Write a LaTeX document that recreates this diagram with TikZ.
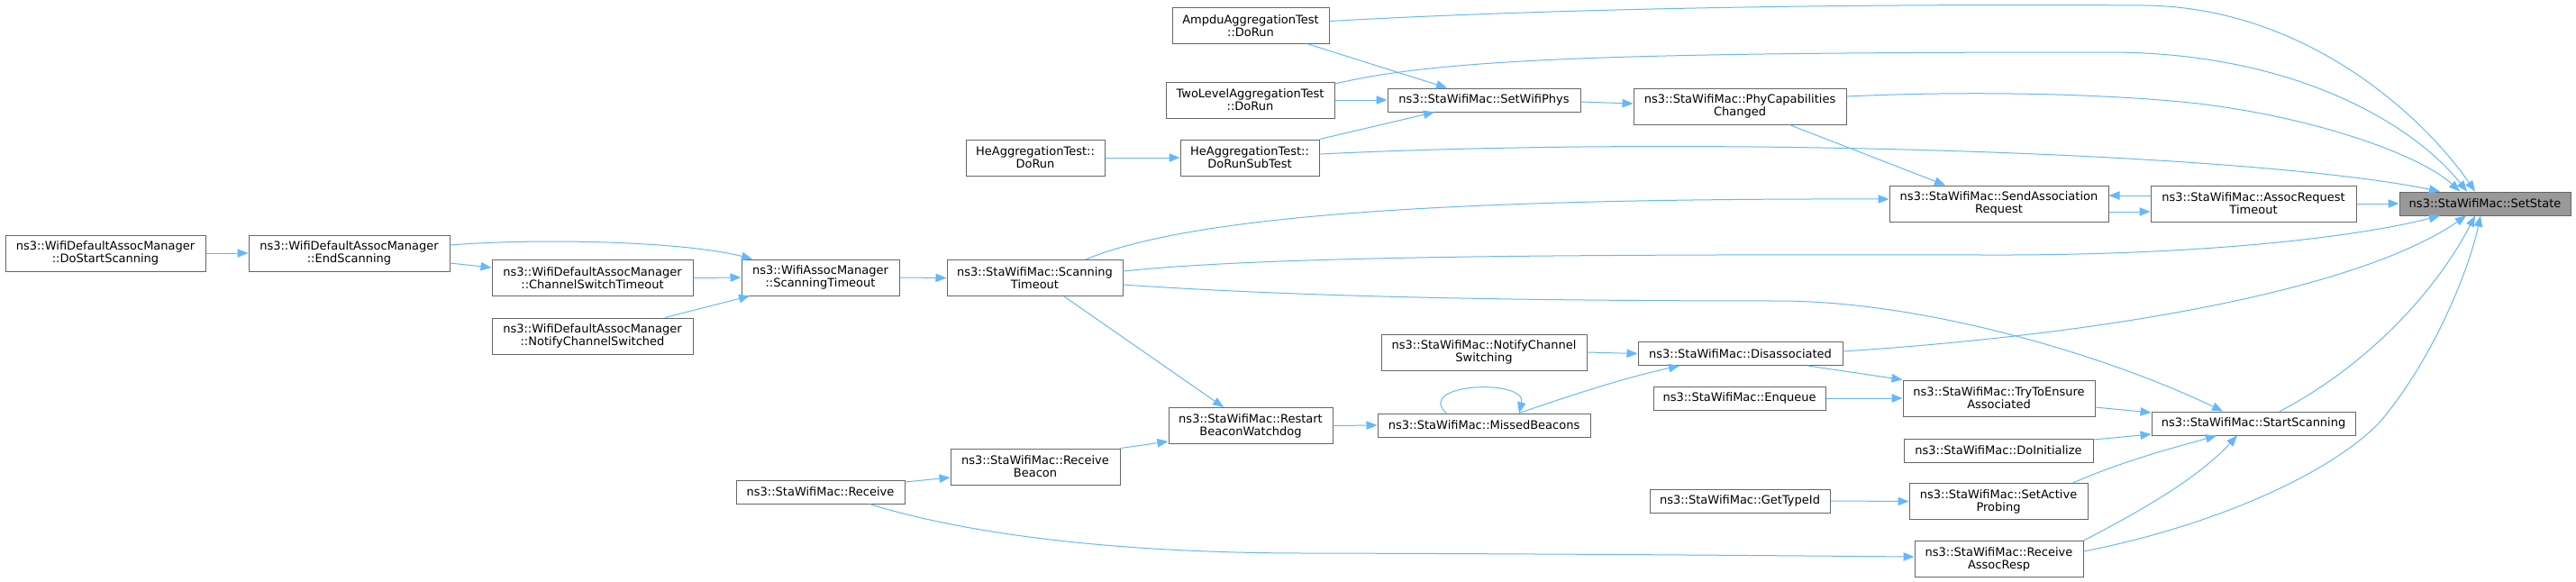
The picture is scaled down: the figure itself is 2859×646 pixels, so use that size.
\documentclass[tikz,border=0pt]{standalone}
\usepackage{fontspec}
\setmainfont{DejaVu Sans}
\usetikzlibrary{arrows.meta,calc}
\definecolor{edgec}{HTML}{63B8FF}
\definecolor{boxc}{HTML}{666666}
\definecolor{hlc}{HTML}{999999}
\begin{document}
\begin{tikzpicture}[x=0.75pt,y=-0.75pt,
  box/.style 2 args={draw=boxc,line width=0.75pt,fill=white,minimum width=#1*0.75pt,minimum height=#2*0.75pt,inner sep=0pt,align=center,font=\fontsize{9.75}{10.5}\selectfont},
  hl/.style={fill=hlc},
  edge/.style={draw=edgec,line width=0.75pt,-{Triangle[length=9pt,width=7pt]}}]
\useasboundingbox (0,0) rectangle (2859,646);

\node[box={190}{26},hl] (setstate) at (2758,226) {ns3::StaWifiMac::SetState};
\node[box={228}{40}] (assocreq) at (2501,226) {ns3::StaWifiMac::AssocRequest\\Timeout};
\node[box={226}{26}] (startscan) at (2501,470) {ns3::StaWifiMac::StartScanning};
\node[box={243}{40}] (sendassoc) at (2218.5,226) {ns3::StaWifiMac::SendAssociation\\Request};
\node[box={213}{40}] (tryens) at (2218.5,442) {ns3::StaWifiMac::TryToEnsure\\Associated};
\node[box={210}{26}] (doinit) at (2218,500) {ns3::StaWifiMac::DoInitialize};
\node[box={198}{40}] (setactive) at (2218,556.5) {ns3::StaWifiMac::SetActive\\Probing};
\node[box={187}{40}] (recvassoc) at (2218.5,620.5) {ns3::StaWifiMac::Receive\\AssocResp};
\node[box={236}{40}] (phycap) at (1931,118) {ns3::StaWifiMac::PhyCapabilities\\Changed};
\node[box={227}{26}] (disassoc) at (1931.5,392.5) {ns3::StaWifiMac::Disassociated};
\node[box={191}{26}] (enqueue) at (1930.5,442) {ns3::StaWifiMac::Enqueue};
\node[box={200}{26}] (gettypeid) at (1931,556) {ns3::StaWifiMac::GetTypeId};
\node[box={214}{26}] (setwifiphys) at (1647,111) {ns3::StaWifiMac::SetWifiPhys};
\node[box={228}{40}] (notifysw) at (1647,391) {ns3::StaWifiMac::NotifyChannel\\Switching};
\node[box={236}{26}] (missed) at (1647,472) {ns3::StaWifiMac::MissedBeacons};
\node[box={174}{40}] (ampdu) at (1388,28.5) {AmpduAggregationTest\\::DoRun};
\node[box={187}{40}] (twolevel) at (1387.5,111) {TwoLevelAggregationTest\\::DoRun};
\node[box={154}{40}] (hesub) at (1387,175) {HeAggregationTest::\\DoRunSubTest};
\node[box={182}{40}] (restart) at (1388,472.5) {ns3::StaWifiMac::Restart\\BeaconWatchdog};
\node[box={154}{40}] (hedorun) at (1149,175) {HeAggregationTest::\\DoRun};
\node[box={195}{40}] (stascan) at (1148.5,308.5) {ns3::StaWifiMac::Scanning\\Timeout};
\node[box={188}{40}] (recvbeacon) at (1149,518) {ns3::StaWifiMac::Receive\\Beacon};
\node[box={175}{40}] (wamscan) at (910.5,308) {ns3::WifiAssocManager\\::ScanningTimeout};
\node[box={187}{26}] (receive) at (910.5,546) {ns3::StaWifiMac::Receive};
\node[box={223}{40}] (chsw) at (657.5,308.5) {ns3::WifiDefaultAssocManager\\::ChannelSwitchTimeout};
\node[box={223}{40}] (notifyswd) at (657.5,373) {ns3::WifiDefaultAssocManager\\::NotifyChannelSwitched};
\node[box={223}{40}] (endscan) at (387.5,281) {ns3::WifiDefaultAssocManager\\::EndScanning};
\node[box={222}{40}] (dostart) at (117,281) {ns3::WifiDefaultAssocManager\\::DoStartScanning};

\draw[edge] ($(ampdu.east)+(0,-5)$) .. controls (1750,8) and (2100,4) .. (2380,6) .. controls (2560,8) and (2690,130) .. ($(setstate.north)+(-11,0)$);
\draw[edge] ($(ampdu.south)+(64,0)$) -- ($(setwifiphys.north)+(-41,0)$);
\draw[edge] (twolevel.east) -- (setwifiphys.west);
\draw[edge] ($(twolevel.east)+(0,-18)$) .. controls (1600,65) and (1800,58) .. (2340,58) .. controls (2550,58) and (2680,140) .. ($(setstate.north)+(-20,0)$);
\draw[edge] (hesub.north east) -- ($(setwifiphys.south)+(-55,0)$);
\draw[edge] ($(hesub.east)+(0,-4)$) .. controls (1900,150) and (2500,170) .. ($(setstate.north)+(-50,0)$);
\draw[edge] (hedorun.east) -- (hesub.west);
\draw[edge] ($(setwifiphys.east)+(0,2)$) -- ($(phycap.west)+(0,-3)$);
\draw[edge] ($(phycap.east)+(0,-11)$) .. controls (2200,100) and (2350,105) .. (2440,115) .. controls (2580,132) and (2690,175) .. ($(setstate.north)+(-28,0)$);
\draw[edge] ($(phycap.south)+(55,0)$) -- ($(sendassoc.north)+(-59.5,0)$);
\draw[edge] ($(sendassoc.east)+(0,9)$) -- ($(assocreq.west)+(0,9)$);
\draw[edge] ($(assocreq.west)+(0,-9)$) -- ($(sendassoc.east)+(0,-9)$);
\draw[edge] (assocreq.east) -- (setstate.west);
\draw[edge] ($(stascan.north)+(56.5,0)$) .. controls (1320,240) and (1600,220) .. ($(sendassoc.west)+(0,-5)$);
\draw[edge] ($(stascan.east)+(0,-7.5)$) .. controls (1400,285) and (1700,282) .. (2200,283) .. controls (2450,284) and (2620,262) .. ($(setstate.south)+(-50,0)$);
\draw[edge] ($(stascan.east)+(0,7.5)$) .. controls (1450,330) and (1700,334) .. (1980,334) .. controls (2150,336) and (2350,400) .. ($(startscan.north)+(-34,0)$);
\draw[edge] ($(stascan.south)+(32.5,0)$) -- ($(restart.north)+(-30,0)$);
\draw[edge] (recvbeacon.north east) -- ($(restart.west)+(0,17.5)$);
\draw[edge] (restart.east) -- (missed.west);
\draw[edge] ($(missed.north)+(-42,0)$) .. controls (1570,425) and (1695,420) .. ($(missed.north)+(39,0)$);
\draw[edge] ($(missed.north)+(39,0)$) .. controls (1740,440) and (1800,420) .. ($(disassoc.south)+(-67.5,0)$);
\draw[edge] (notifysw.east) -- (disassoc.west);
\draw[edge] ($(disassoc.east)+(0,-2.5)$) .. controls (2350,370) and (2620,320) .. ($(setstate.south)+(-21,0)$);
\draw[edge] ($(disassoc.south)+(75,0)$) -- (tryens.north west);
\draw[edge] (enqueue.east) -- (tryens.west);
\draw[edge] ($(tryens.east)+(0,10)$) -- ($(startscan.west)+(0,-12)$);
\draw[edge] ($(doinit.east)+(0,-12)$) -- ($(startscan.west)+(0,12)$);
\draw[edge] ($(setactive.north east)+(-17,0)$) .. controls (2360,510) and (2420,495) .. ($(startscan.south)+(-41,0)$);
\draw[edge] (recvassoc.north east) .. controls (2380,565) and (2440,530) .. ($(startscan.south)+(-18,0)$);
\draw[edge] ($(recvassoc.east)+(0,-8.5)$) .. controls (2450,585) and (2580,530) .. (2640,470) .. controls (2700,400) and (2740,300) .. ($(setstate.south)+(-5,0)$);
\draw[edge] ($(startscan.north)+(29,0)$) .. controls (2620,410) and (2700,330) .. ($(setstate.south)+(-11,0)$);
\draw[edge] (gettypeid.east) -- (setactive.west);
\draw[edge] ($(receive.east)+(0,-11)$) -- ($(recvbeacon.west)+(0,12)$);
\draw[edge] ($(receive.south)+(54.5,0)$) .. controls (1080,595) and (1250,614) .. (1450,614) .. controls (1800,615) and (2000,617) .. ($(recvassoc.west)+(0,-2.5)$);
\draw[edge] (wamscan.east) -- (stascan.west);
\draw[edge] (chsw.east) -- (wamscan.west);
\draw[edge] ($(notifyswd.north)+(80.5,0)$) -- ($(wamscan.south)+(-78.5,0)$);
\draw[edge] ($(endscan.east)+(0,-9)$) .. controls (600,264) and (760,268) .. ($(wamscan.north)+(-75.5,0)$);
\draw[edge] ($(endscan.east)+(0,11)$) -- ($(chsw.west)+(0,-11.5)$);
\draw[edge] (dostart.east) -- (endscan.west);
\end{tikzpicture}
\end{document}
